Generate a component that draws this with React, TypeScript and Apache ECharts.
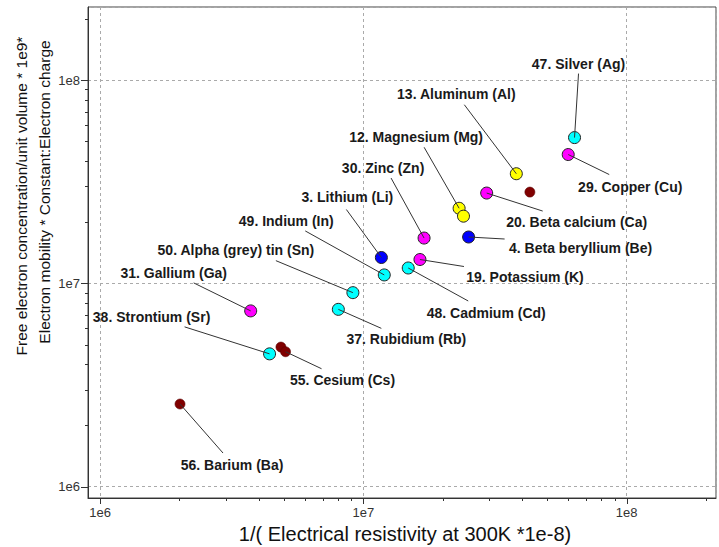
import React, { useEffect, useRef } from 'react';
import * as echarts from 'echarts';

// ---- data ----
const names = [
  '47. Silver (Ag)', '29. Copper (Cu)', '13. Aluminum (Al)', '', '20. Beta calcium (Ca)',
  '12. Magnesium (Mg)', '', '30. Zinc (Zn)', '4. Beta beryllium (Be)', '3. Lithium (Li)',
  '19. Potassium (K)', '48. Cadmium (Cd)', '49. Indium (In)', '50. Alpha (grey) tin (Sn)', '37. Rubidium (Rb)',
  '31. Gallium (Ga)', '38. Strontium (Sr)', '', '55. Cesium (Cs)', '56. Barium (Ba)',
];
const xValues = [
  6.34e7, 6.0e7, 3.81e7, 4.29e7, 2.94e7,
  2.31e7, 2.40e7, 1.70e7, 2.51e7, 1.17e7,
  1.64e7, 1.48e7, 1.20e7, 9.12e6, 8.03e6,
  3.73e6, 4.40e6, 4.86e6, 5.06e6, 2.01e6,
];
const yValues = [
  5.21e7, 4.30e7, 3.46e7, 2.81e7, 2.78e7,
  2.34e7, 2.14e7, 1.67e7, 1.69e7, 1.34e7,
  1.31e7, 1.19e7, 1.10e7, 9.0e6, 7.45e6,
  7.32e6, 4.50e6, 4.86e6, 4.61e6, 2.55e6,
];
const groups = [
  'cyan', 'magenta', 'yellow', 'darkred', 'magenta',
  'yellow', 'yellow', 'magenta', 'blue', 'blue',
  'magenta', 'cyan', 'cyan', 'cyan', 'cyan',
  'magenta', 'cyan', 'darkred', 'darkred', 'darkred',
];
const majorTicks = [1e6, 1e7, 1e8];
const xMinorTicks = [2e6, 3e6, 4e6, 5e6, 6e6, 7e6, 8e6, 9e6, 2e7, 3e7, 4e7, 5e7, 6e7, 7e7, 8e7, 9e7, 2e8];
const yMinorTicks = [2e6, 3e6, 4e6, 5e6, 6e6, 7e6, 8e6, 9e6, 2e7, 3e7, 4e7, 5e7, 6e7, 7e7, 8e7, 9e7, 2e8];
const xAxisTitle = '1/( Electrical resistivity at 300K *1e-8)';
const yAxisTitle1 = 'Free electron concentration/unit volume * 1e9*';
const yAxisTitle2 = 'Electron mobility * Constant:Electron charge';

// ---- styles / layout ----
const colorMap: Record<string, string> = {
  cyan: '#00ffff', magenta: '#ff00ff', yellow: '#ffff00', blue: '#0000ff', darkred: '#800000',
};
// [lineEndDx, lineEndDy, textCenterDx, textCenterDy] relative to the point, in pixels
const labelOffsets: (number[] | null)[] = [
  [4, -64, 4, -74], [41, 20, 62, 32], [-52, -69, -60, -80], null, [56, 18, 90, 29],
  [-35, -61, -43, -71], null, [-33, -60, -41, -70], [36, 2, 112, 11], [-35, -48, -34, -61],
  [44, 7, 105, 17], [60, 33, 78, 45], [-79, -44, -98, -54], [-77, -32, -117, -43], [43, 19, 68, 30],
  [-57, -28, -77, -38], [-85, -27, -118, -37], null, [36, 17, 57, 28], [43, 49, 52, 61],
];
const X_MIN = Math.pow(10, 5.9536);
const X_MAX = Math.pow(10, 8.3396);
const Y_MIN = Math.pow(10, 5.9444);
const Y_MAX = Math.pow(10, 8.359);

const decadeLabel = (v: number) => {
  const l = Math.log10(v);
  return Math.abs(l - Math.round(l)) < 1e-6 ? '1e' + Math.round(l) : '';
};

export default function App() {
  const ref = useRef<HTMLDivElement>(null);
  useEffect(() => {
    if (!ref.current) return;
    const chart = echarts.init(ref.current, undefined, { renderer: 'svg' });

    const scatterData = xValues.map((x, i) => {
      const g = groups[i];
      const dr = g === 'darkred';
      return {
        value: [x, yValues[i]],
        symbolSize: dr ? 10 : 12,
        itemStyle: {
          color: colorMap[g],
          borderColor: dr ? '#5a0000' : '#222',
          borderWidth: dr ? 0.6 : 1,
          opacity: 1,
        },
      };
    });

    const labelData = names
      .map((n, i) => (n ? [xValues[i], yValues[i], i] : null))
      .filter((d) => d !== null);

    const xTickData = [
      ...majorTicks.map((v) => [v, Y_MIN, 1]),
      ...xMinorTicks.map((v) => [v, Y_MIN, 0]),
    ];
    const yTickData = [
      ...majorTicks.map((v) => [X_MIN, v, 1]),
      ...yMinorTicks.map((v) => [X_MIN, v, 0]),
    ];

    const axisCommon = {
      type: 'log' as const,
      logBase: 10,
      axisLine: { show: true, lineStyle: { color: '#333', width: 1 } },
      axisTick: { show: false },
      splitLine: { show: true, lineStyle: { color: '#aaa', type: [3, 3] as any, width: 1 } },
      axisLabel: {
        formatter: decadeLabel,
        color: '#333',
        fontSize: 13,
        fontFamily: 'Arial, Liberation Sans, sans-serif',
        margin: 8,
        showMinLabel: true,
        showMaxLabel: true,
      },
    };

    chart.setOption({
      animation: false,
      backgroundColor: '#ffffff',
      grid: {
        left: 88, top: 7, right: -2, bottom: 49,
        show: true, borderColor: '#444', borderWidth: 1, backgroundColor: 'transparent',
      },
      xAxis: { ...axisCommon, min: X_MIN, max: X_MAX },
      yAxis: { ...axisCommon, min: Y_MIN, max: Y_MAX },
      graphic: [
        {
          type: 'text', x: 405, y: 534,
          style: {
            text: xAxisTitle, fill: '#111', fontSize: 20,
            fontFamily: 'Arial, Liberation Sans, sans-serif', align: 'center', verticalAlign: 'middle',
          },
        },
        {
          type: 'text', x: 21, y: 196, rotation: Math.PI / 2,
          style: {
            text: yAxisTitle1, fill: '#111', fontSize: 15.5,
            fontFamily: 'Arial, Liberation Sans, sans-serif', align: 'center', verticalAlign: 'middle',
          },
        },
        {
          type: 'text', x: 44, y: 192, rotation: Math.PI / 2,
          style: {
            text: yAxisTitle2, fill: '#111', fontSize: 15.5,
            fontFamily: 'Arial, Liberation Sans, sans-serif', align: 'center', verticalAlign: 'middle',
          },
        },
      ],
      series: [
        {
          type: 'custom',
          name: 'xticks',
          coordinateSystem: 'cartesian2d',
          clip: false,
          silent: true,
          z: 5,
          encode: { x: 0, y: 1 },
          data: xTickData,
          renderItem: (params: any, api: any) => {
            const p = api.coord([api.value(0), api.value(1)]);
            const len = api.value(2) ? 6 : 3;
            const x = Math.round(p[0]) + 0.5;
            const y = Math.round(p[1]);
            return {
              type: 'line',
              shape: { x1: x, y1: y, x2: x, y2: y + len },
              style: { stroke: '#333', lineWidth: 1 },
            };
          },
        },
        {
          type: 'custom',
          name: 'yticks',
          coordinateSystem: 'cartesian2d',
          clip: false,
          silent: true,
          z: 5,
          encode: { x: 0, y: 1 },
          data: yTickData,
          renderItem: (params: any, api: any) => {
            const p = api.coord([api.value(0), api.value(1)]);
            const len = api.value(2) ? 7 : 3;
            const x = Math.round(p[0]);
            const y = Math.round(p[1]) + 0.5;
            return {
              type: 'line',
              shape: { x1: x, y1: y, x2: x - len, y2: y },
              style: { stroke: '#333', lineWidth: 1 },
            };
          },
        },
        {
          type: 'scatter',
          name: 'elements',
          z: 2,
          data: scatterData,
        },
        {
          type: 'custom',
          name: 'labels',
          coordinateSystem: 'cartesian2d',
          clip: false,
          silent: true,
          z: 3,
          encode: { x: 0, y: 1 },
          data: labelData,
          renderItem: (params: any, api: any) => {
            const p = api.coord([api.value(0), api.value(1)]);
            const i = api.value(2);
            const o = labelOffsets[i] as number[];
            return {
              type: 'group',
              children: [
                {
                  type: 'line',
                  shape: { x1: p[0], y1: p[1], x2: p[0] + o[0], y2: p[1] + o[1] },
                  style: { stroke: '#333', lineWidth: 1 },
                },
                {
                  type: 'text',
                  x: p[0] + o[2],
                  y: p[1] + o[3],
                  style: {
                    text: names[i],
                    fill: '#1a1a1a',
                    fontSize: 14,
                    fontWeight: 'bold',
                    fontFamily: 'Arial, Liberation Sans, sans-serif',
                    align: 'center',
                    verticalAlign: 'middle',
                  },
                },
              ],
            };
          },
        },
      ],
    });
    return () => chart.dispose();
  }, []);

  return (
    <div
      ref={ref}
      style={{ position: 'fixed', left: 0, top: 0, width: 719, height: 547, background: '#fff' }}
    />
  );
}
